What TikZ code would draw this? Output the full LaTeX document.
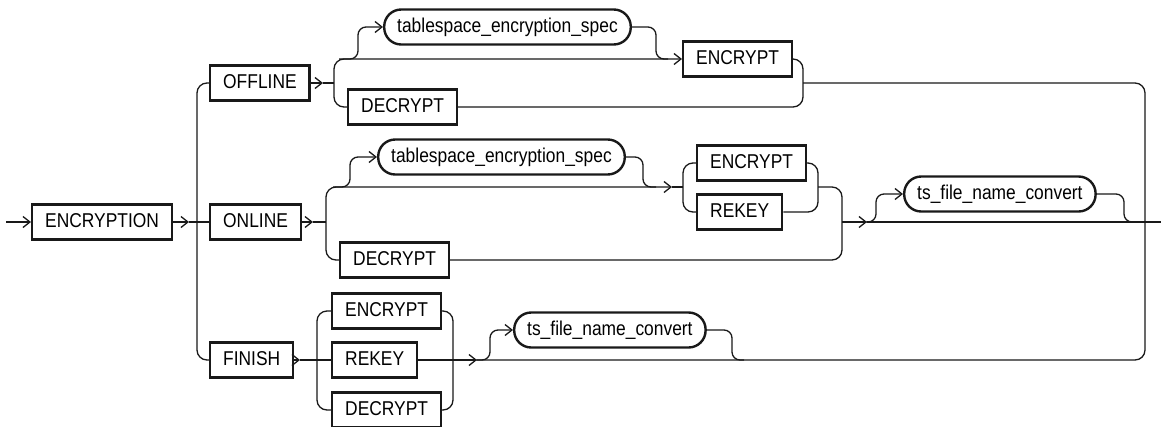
\documentclass[tikz,border=0pt]{standalone}
\usepackage{fontspec}
\newfontfamily\railfont{Liberation Sans}[FakeStretch=0.87]
\usepackage{tikz}
\usetikzlibrary{arrows.meta}
\definecolor{railink}{RGB}{25,25,25}
\tikzset{
  keyword-node/.style={draw=railink, line width=2.4pt, rectangle, anchor=west,
    minimum height=35pt, inner xsep=13pt, inner ysep=0pt,
    font=\railfont\fontsize{20}{24}\selectfont, text height=14pt, text depth=3pt},
  rule-node/.style={keyword-node, rounded corners=17pt},
  rail-line/.style={draw=railink, line width=1.3pt, rounded corners=10pt},
  rail-arrow/.style={rail-line, -{Straight Barb[length=7pt,width=11pt]}},
  s-bend/.style={rounded corners=8pt}
}

\begin{document}
\begin{tikzpicture}[x=1pt, y=-1pt]
\useasboundingbox (0,0) rectangle (1161,426);

% Main keywords
\node[keyword-node] (encryption) at (31,222) {ENCRYPTION};
\node[keyword-node] (offline) at (209,83) {OFFLINE};
\node[keyword-node] (online) at (209,222) {ONLINE};
\node[keyword-node] (finish) at (209,360) {FINISH};

% OFFLINE branch
\node[rule-node] (ts-spec-a) at (383,27) {tablespace\_encryption\_spec};
\node[keyword-node] (encrypt-a) at (682,59) {ENCRYPT};
\node[keyword-node] (decrypt-a) at (347,107) {DECRYPT};

% ONLINE branch
\node[rule-node] (ts-spec-b) at (377,157) {tablespace\_encryption\_spec};
\node[keyword-node] (encrypt-b) at (696,163) {ENCRYPT};
\node[keyword-node] (rekey-b) at (696,212) {REKEY};
\node[keyword-node] (decrypt-b) at (339,260) {DECRYPT};
\node[rule-node] (convert-b) at (903,194) {ts\_file\_name\_convert};

% FINISH branch
\node[keyword-node] (encrypt-c) at (331,311) {ENCRYPT};
\node[keyword-node] (rekey-c) at (331,360) {REKEY};
\node[keyword-node] (decrypt-c) at (331,410) {DECRYPT};
\node[rule-node] (convert-c) at (513,330) {ts\_file\_name\_convert};

% Junction points
\coordinate (entry) at (6,222);
\coordinate (exit) at (1161,222);
\coordinate (fork) at (189,222);
\coordinate (join) at (1145,222);
\coordinate (a-in) at (323,83);
\coordinate (a-out) at (803,83);
\coordinate (b-in) at (313,222);
\coordinate (b-mid) at (672,187);
\coordinate (b-out) at (867,222);
\coordinate (c-in) at (300,360);
\coordinate (c-out) at (477,360);

% Trunk
\draw[rail-arrow] (entry) -- (encryption.west);
\draw[rail-arrow] (encryption.east) -- (fork);
\draw[rail-line] (fork) -- (online.west);
\draw[rail-line] (offline.west) -| (197,222) |- (finish.west);
\draw[rail-line] (a-out) -| (join) |- (c-out);
\draw[rail-line] (join) -- (exit);

% OFFLINE
\draw[rail-arrow] (offline.east) -- (a-in);
\draw[rail-line] (a-in) -- (334,83);
\draw[rail-arrow] (decrypt-a.west) -| (334,83) |- (encrypt-a.west);
\draw[rail-arrow, s-bend] (339,59) -| (358,27) -- (ts-spec-a.west);
\draw[rail-line, s-bend] (ts-spec-a.east) -| (656,59) -- (668,59);
\draw[rail-line] (encrypt-a.east) -| (a-out) |- (decrypt-a.east);

% ONLINE
\draw[rail-arrow] (online.east) -- (b-in);
\draw[rail-line] (b-in) -- (326,222);
\draw[rail-arrow] (decrypt-b.west) -| (326,222) |- (b-mid);
\draw[rail-arrow, s-bend] (333,187) -| (350,157) -- (ts-spec-b.west);
\draw[rail-line, s-bend] (ts-spec-b.east) -| (643,187) -- (656,187);
\draw[rail-line] (b-mid) -- (683,187);
\draw[rail-line] (encrypt-b.west) -| (683,187) |- (rekey-b.west);
\draw[rail-line] (encrypt-b.east) -| (818,187) |- (rekey-b.east);
\draw[rail-line] (818,187) -| (842,222) |- (decrypt-b.east);
\draw[rail-arrow] (842,222) -- (b-out);
\draw[rail-line] (b-out) -- (join);
\draw[rail-arrow, s-bend] (862,222) -| (876,194) -- (convert-b.west);
\draw[rail-line, s-bend] (convert-b.east) -| (1124,222) -- (1138,222);

% FINISH
\draw[rail-arrow] (finish.east) -- (c-in);
\draw[rail-line] (c-in) -- (rekey-c.west);
\draw[rail-line] (encrypt-c.west) -| (317,360) |- (decrypt-c.west);
\draw[rail-line] (encrypt-c.east) -| (453,360) |- (decrypt-c.east);
\draw[rail-arrow] (rekey-c.east) -- (c-out);
\draw[rail-arrow, s-bend] (476,360) -| (490,330) -- (convert-c.west);
\draw[rail-line, s-bend] (convert-c.east) -| (732,360) -- (744,360);
\end{tikzpicture}
\end{document}
